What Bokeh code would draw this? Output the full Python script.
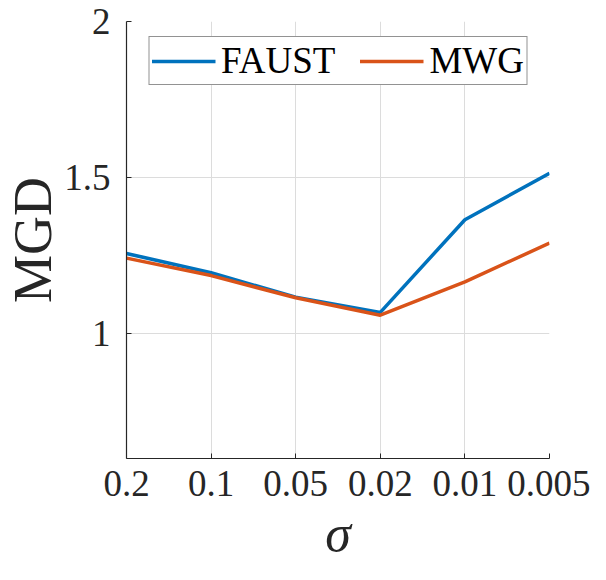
from bokeh.plotting import figure
from bokeh.models import FixedTicker, Legend, LegendItem, Range1d
from bokeh.embed import file_html
from bokeh.resources import INLINE

sigma_labels = ["0.2", "0.1", "0.05", "0.02", "0.01", "0.005"]
faust = [1.257, 1.195, 1.117, 1.068, 1.365, 1.514]
mwg = [1.242, 1.186, 1.115, 1.059, 1.166, 1.290]
y_ticks = [1, 1.5, 2]
y_tick_labels = {1: "1", 1.5: "1.5", 2: "2"}

xs = list(range(1, len(sigma_labels) + 1))

FONT = "Liberation Serif"
AX = "#262626"

p = figure(width=590, height=564, output_backend="svg", toolbar_location=None,
           x_range=Range1d(1, len(sigma_labels)), y_range=Range1d(0.6, 2.0),
           min_border_left=126, min_border_right=41, min_border_top=21, min_border_bottom=106)
p.outline_line_color = None
p.background_fill_color = "white"
p.border_fill_color = "white"

r1 = p.line(xs, faust, line_color="#0072BD", line_width=3.5)
r2 = p.line(xs, mwg, line_color="#D95319", line_width=3.5)

p.xaxis.ticker = FixedTicker(ticks=xs)
p.xaxis.major_label_overrides = {x: lab for x, lab in zip(xs, sigma_labels)}
p.yaxis.ticker = FixedTicker(ticks=y_ticks)
p.yaxis.major_label_overrides = y_tick_labels

for ax in (p.xaxis[0], p.yaxis[0]):
    ax.axis_line_color = AX
    ax.axis_line_width = 1.2
    ax.major_tick_line_color = AX
    ax.major_tick_in = 5
    ax.major_tick_out = 0
    ax.minor_tick_line_color = None
    ax.major_label_text_font = FONT
    ax.major_label_text_font_size = "37px"
    ax.major_label_text_color = AX
    ax.axis_label_text_font = FONT
    ax.axis_label_text_color = AX

p.xaxis.major_label_standoff = 12
p.yaxis.major_label_standoff = 16

p.yaxis.axis_label = "MGD"
p.yaxis.axis_label_text_font_size = "54px"
p.yaxis.axis_label_text_font_style = "normal"
p.yaxis.axis_label_standoff = -2

p.xaxis.axis_label = "σ"
p.xaxis.axis_label_text_font_size = "52px"
p.xaxis.axis_label_text_font_style = "italic"
p.xaxis.axis_label_standoff = 6

p.xgrid.ticker = FixedTicker(ticks=xs)
p.ygrid.ticker = FixedTicker(ticks=y_ticks)
p.grid.grid_line_color = "#dcdcdc"
p.grid.grid_line_width = 1

legend = Legend(items=[LegendItem(label="FAUST", renderers=[r1]),
                       LegendItem(label="MWG", renderers=[r2])],
                location="top_center", orientation="horizontal")
legend.margin = 15
legend.padding = 2
legend.spacing = 24
legend.label_standoff = 6
legend.glyph_width = 64
legend.label_text_font = FONT
legend.label_text_font_size = "37px"
legend.label_text_color = "black"
legend.border_line_color = AX
legend.border_line_width = 1.2
legend.background_fill_color = "white"
legend.background_fill_alpha = 1
p.add_layout(legend, "center")

open("out.html", "w").write(file_html(p, INLINE))
